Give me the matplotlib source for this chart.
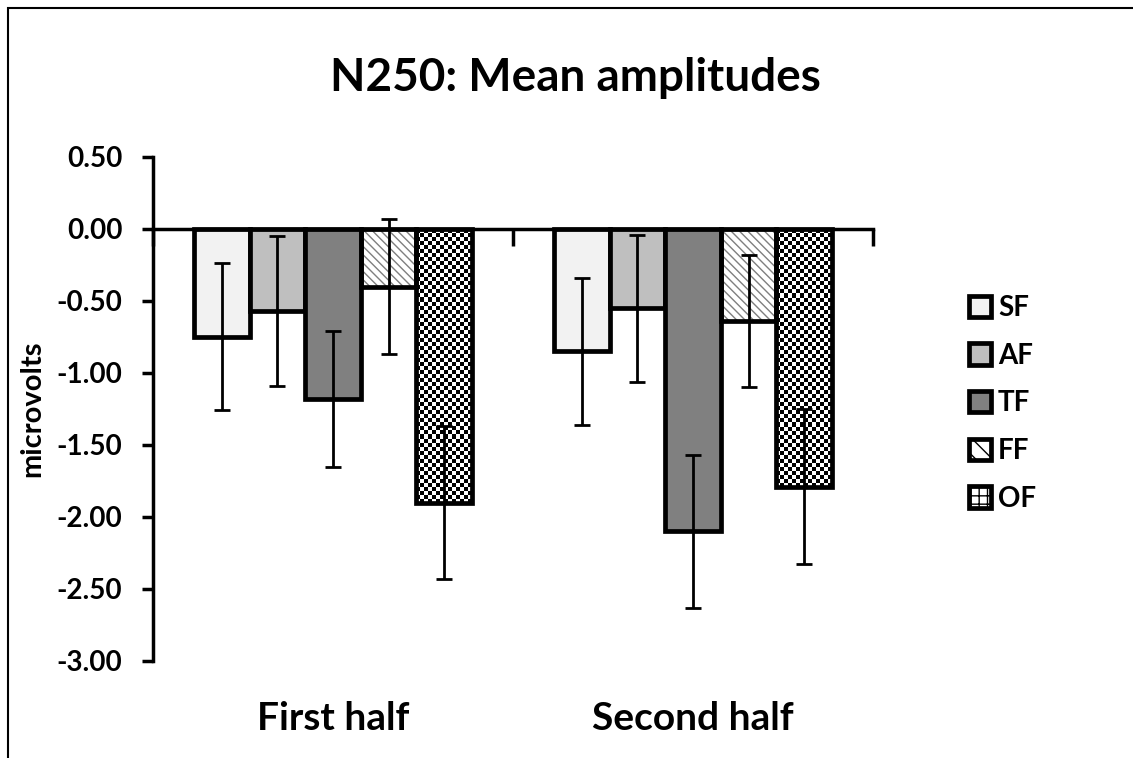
import numpy as np
import matplotlib.pyplot as plt
from matplotlib.patches import Rectangle, Patch
from matplotlib.transforms import blended_transform_factory

plt.rcParams['font.family'] = ['Lato', 'DejaVu Sans']
plt.rcParams['font.weight'] = 'bold'

categories = ['First half', 'Second half']
series = ['SF', 'AF', 'TF', 'FF', 'OF']
means = {
    'SF': [-0.75, -0.85],
    'AF': [-0.57, -0.55],
    'TF': [-1.18, -2.10],
    'FF': [-0.40, -0.64],
    'OF': [-1.90, -1.79],
}
errors = {
    'SF': [0.51, 0.51],
    'AF': [0.52, 0.51],
    'TF': [0.47, 0.53],
    'FF': [0.47, 0.46],
    'OF': [0.53, 0.54],
}
yticks = [0.5, 0.0, -0.5, -1.0, -1.5, -2.0, -2.5, -3.0]

fills = {'SF': '#f2f2f2', 'AF': '#bfbfbf', 'TF': '#808080', 'FF': 'white', 'OF': 'white'}

fig = plt.figure(figsize=(11.33, 7.58), dpi=100)
ax = fig.add_axes([0.135, 0.128, 0.6355, 0.665])

centers = np.arange(len(categories)) + 0.5
width = 0.1544
for i, s in enumerate(series):
    x = centers + (i - 2) * width
    if s == 'FF':
        # grey hatch layer under the black outline
        ax.bar(x, means[s], width, color='white', edgecolor='#7f7f7f',
               hatch='\\\\\\\\', linewidth=0, zorder=2)
    bars = ax.bar(x, means[s], width, color=fills[s], edgecolor='black',
                  linewidth=3.4, zorder=3, fill=(s not in ('FF', 'OF')))
    if s == 'OF':
        # checkerboard fill clipped to each bar
        for b in bars:
            x0, w = b.get_x(), b.get_width()
            y0, h = b.get_y(), b.get_height()
            nx = int(round(w / 0.0111))
            ny = int(round(abs(h) / 0.0278))
            chk = (np.indices((ny, nx)).sum(axis=0) % 2).astype(float)
            im = ax.imshow(chk, cmap='gray', extent=[x0, x0 + w, y0 + h, y0],
                           interpolation='nearest', aspect='auto', zorder=2)
            im.set_clip_path(b)
    ax.errorbar(x, means[s], yerr=errors[s], fmt='none', ecolor='black',
                elinewidth=2, capsize=6, capthick=2, zorder=4)

ax.set_xlim(0, len(categories))
ax.set_ylim(-3.0, 0.5)
ax.set_yticks(yticks)
ax.set_yticklabels(['%.2f' % v for v in yticks], fontsize=20, fontweight='bold')
ax.set_xticks(np.arange(len(categories) + 1))
ax.set_xticklabels([])
ax.tick_params(axis='y', direction='out', length=8, width=2.5, pad=14)
ax.tick_params(axis='x', direction='out', length=12, width=2.5)

for sp in ['top', 'right']:
    ax.spines[sp].set_visible(False)
ax.spines['left'].set_linewidth(2.5)
ax.spines['bottom'].set_position(('data', 0))
ax.spines['bottom'].set_linewidth(2.5)
ax.spines['bottom'].set_zorder(5)

trans = blended_transform_factory(ax.transData, ax.transAxes)
for c, lab in zip(centers, categories):
    ax.text(c, -0.115, lab, transform=trans, ha='center', va='center',
            fontsize=28, fontweight='bold')

ax.set_ylabel('microvolts', fontsize=21, fontweight='bold', labelpad=8)
fig.text(0.508, 0.897, 'N250: Mean amplitudes', ha='center', va='center',
         fontsize=33, fontweight='bold')

handles = [
    Patch(facecolor=fills['SF'], edgecolor='black', linewidth=3.4),
    Patch(facecolor=fills['AF'], edgecolor='black', linewidth=3.4),
    Patch(facecolor=fills['TF'], edgecolor='black', linewidth=3.4),
    Patch(facecolor='white', edgecolor='black', linewidth=3.4, hatch='\\\\'),
    Patch(facecolor='white', edgecolor='black', linewidth=3.4, hatch='++'),
]
fig.legend(handles, series, loc='center left', bbox_to_anchor=(0.833, 0.468),
           frameon=False, handlelength=0.8, handleheight=0.8,
           handletextpad=0.25, labelspacing=0.78, prop={'weight': 'bold', 'size': 20})

fig.add_artist(Rectangle((8 / 1133, -0.2), 1.2, 1.2 - 8 / 758, transform=fig.transFigure,
                         fill=False, edgecolor='black', linewidth=1.5))

fig.savefig('out.png', dpi=100)
